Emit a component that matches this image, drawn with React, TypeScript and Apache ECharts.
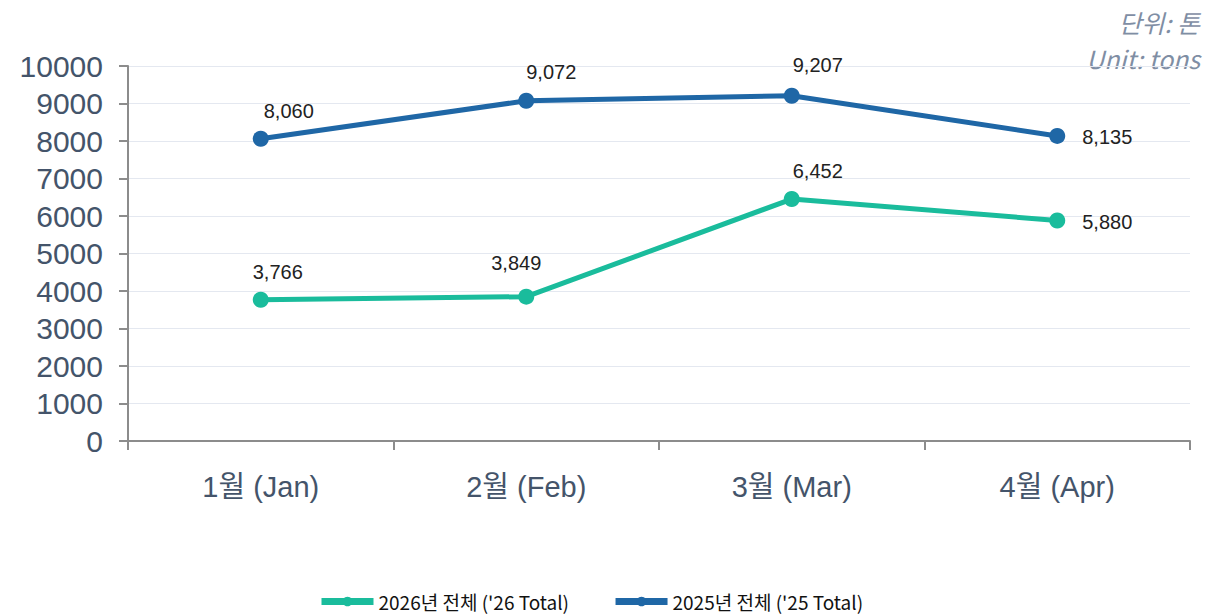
import React, { useEffect, useRef } from "react";
import * as echarts from "echarts";

const categories = ["1월 (Jan)", "2월 (Feb)", "3월 (Mar)", "4월 (Apr)"];
const series2026 = [3766, 3849, 6452, 5880];
const series2025 = [8060, 9072, 9207, 8135];
const name2026 = "2026년 전체 ('26 Total)";
const name2025 = "2025년 전체 ('25 Total)";
const unitLines = ["단위: 톤", "Unit: tons"];
const yTicks = { min: 0, max: 10000, interval: 1000 };

const offsets2025: [number, number][] = [[28, 0], [25, -1], [26, -3], [50, 29]];
const offsets2026: [number, number][] = [[17, 0], [-10, -6], [26, 0], [50, 29]];

export default function App() {
  const ref = useRef<HTMLDivElement>(null);
  useEffect(() => {
    const chart = echarts.init(ref.current!, undefined, { renderer: "svg" });
    const fmt = (v: number) => v.toLocaleString("en-US");
    const mk = (vals: number[], offs: [number, number][]) =>
      vals.map((v, i) => ({
        value: v,
        label: { offset: offs[i] },
      }));
    const unitStyle = {
      fontSize: 25,
      fontStyle: "italic",
      fill: "#7f8ea4",
      textAlign: "right",
      textVerticalAlign: "middle",
      fontFamily: "'Noto Sans CJK KR', 'Liberation Sans', sans-serif",
    };
    const labelCommon = {
      show: true,
      position: "top",
      distance: 10,
      fontSize: 20,
      color: "#222",
      formatter: (p: any) => fmt(p.value),
    };
    chart.setOption({
      animation: false,
      textStyle: { fontFamily: "Arial, 'Liberation Sans', 'Noto Sans CJK KR'" },
      grid: { left: 128, right: 15, top: 66, bottom: 175, containLabel: false },
      graphic: [
        { type: "text", x: 1200, y: 22, style: { ...unitStyle, text: unitLines[0] } },
        { type: "text", x: 1200, y: 58, style: { ...unitStyle, text: unitLines[1] } },
      ],
      legend: {
        bottom: 0,
        left: 313,
        itemWidth: 52,
        itemHeight: 12,
        itemGap: 43,
        lineStyle: { width: 7 },
        textStyle: {
          fontSize: 19,
          color: "#111",
          fontFamily: "'Noto Sans CJK KR', 'Noto Sans', sans-serif",
        },
        data: [name2026, name2025],
      },
      xAxis: {
        type: "category",
        data: categories,
        boundaryGap: true,
        axisLine: { lineStyle: { color: "#8c8c8c", width: 2 } },
        axisTick: { show: true, length: 9, lineStyle: { color: "#8c8c8c", width: 2 } },
        axisLabel: { fontSize: 29, color: "#44546a", margin: 31 },
        splitLine: { show: false },
      },
      yAxis: {
        type: "value",
        min: yTicks.min,
        max: yTicks.max,
        interval: yTicks.interval,
        axisLine: { show: true, lineStyle: { color: "#8c8c8c", width: 2 } },
        axisTick: { show: true, length: 9, lineStyle: { color: "#8c8c8c", width: 2 } },
        axisLabel: { fontSize: 30, color: "#44546a", margin: 25, formatter: (v: number) => String(v) },
        splitLine: { lineStyle: { color: "#e4e8f0", width: 1 } },
      },
      series: [
        {
          name: name2026,
          type: "line",
          data: mk(series2026, offsets2026),
          color: "#1abc9c",
          lineStyle: { width: 5, color: "#1abc9c" },
          symbol: "circle",
          symbolSize: 16,
          itemStyle: { color: "#1abc9c" },
          label: labelCommon,
          z: 3,
        },
        {
          name: name2025,
          type: "line",
          data: mk(series2025, offsets2025),
          color: "#1f67a6",
          lineStyle: { width: 5, color: "#1f67a6" },
          symbol: "circle",
          symbolSize: 16,
          itemStyle: { color: "#1f67a6" },
          label: labelCommon,
          z: 3,
        },
      ],
    });
    return () => chart.dispose();
  }, []);
  return <div ref={ref} style={{ width: 1205, height: 616, position: "absolute", left: 0, top: 0 }} />;
}
